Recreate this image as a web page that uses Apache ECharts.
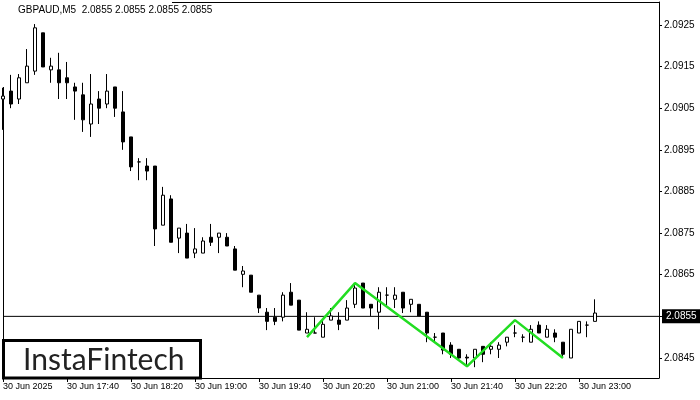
<!DOCTYPE html>
<html>
<head>
<meta charset="utf-8">
<script src="https://cdn.jsdelivr.net/npm/echarts@6/dist/echarts.min.js"></script>
<style>html,body{margin:0;padding:0;background:#fff}#c{width:700px;height:400px}</style>
</head>
<body>
<div id="c"></div>
<script>
var categories = ["17:00","17:05","17:10","17:15","17:20","17:25","17:30","17:35","17:40","17:45","17:50","17:55",
"18:00","18:05","18:10","18:15","18:20","18:25","18:30","18:35","18:40","18:45","18:50","18:55",
"19:00","19:05","19:10","19:15","19:20","19:25","19:30","19:35","19:40","19:45","19:50","19:55",
"20:00","20:05","20:10","20:15","20:20","20:25","20:30","20:35","20:40","20:45","20:50","20:55",
"21:00","21:05","21:10","21:15","21:20","21:25","21:30","21:35","21:40","21:45","21:50","21:55",
"22:00","22:05","22:10","22:15","22:20","22:25","22:30","22:35","22:40","22:45","22:50","22:55",
"23:00","23:05","23:10","23:15","23:20","23:25","23:30","23:35","23:40","23:45","23:50"];

var opens = [2.09072,2.09091,2.09072,2.09111,2.09139,2.09231,2.09142,2.09142,2.09123,2.09101,
2.09082,2.09012,2.09072,2.09060,2.09101,2.09041,2.08981,2.08921,2.08911,2.08911,
2.08769,2.08832,2.08738,2.08750,2.08702,2.08702,2.08740,2.08740,2.08740,2.08712,
2.08651,2.08649,2.08601,2.08560,2.08548,2.08548,2.08608,2.08589,2.08510,2.08510,
2.08500,2.08541,2.08541,2.08541,2.08579,2.08630,2.08579,2.08560,2.08601,2.08591,
2.08608,2.08579,2.08579,2.08560,2.08500,2.08510,2.08481,2.08471,2.08452,2.08450,
2.08478,2.08471,2.08471,2.08488,2.08510,2.08500,2.08488,2.08529,2.08500,2.08510,
2.08488,2.08450,2.08510,2.08529,2.08538];

var closes = [2.09079,2.09060,2.09123,2.09151,2.09243,2.09149,2.09151,2.09111,2.09111,2.09091,
2.09022,2.09060,2.09050,2.09091,2.09050,2.08969,2.08909,2.08921,2.08899,2.08760,
2.08841,2.08728,2.08762,2.08690,2.08712,2.08731,2.08728,2.08750,2.08719,2.08661,
2.08659,2.08608,2.08570,2.08538,2.08538,2.08601,2.08577,2.08517,2.08519,2.08510,
2.08531,2.08551,2.08531,2.08570,2.08618,2.08570,2.08570,2.08608,2.08601,2.08601,
2.08570,2.08591,2.08551,2.08510,2.08500,2.08469,2.08459,2.08450,2.08450,2.08471,
2.08459,2.08478,2.08481,2.08500,2.08510,2.08500,2.08519,2.08510,2.08519,2.08500,
2.08459,2.08519,2.08538,2.08529,2.08558];

var lows = [2.08998,2.09050,2.09060,2.09111,2.09130,2.09149,2.09111,2.09072,2.09072,2.09022,
2.08993,2.08981,2.09012,2.09050,2.09029,2.08950,2.08899,2.08877,2.08877,2.08719,
2.08769,2.08728,2.08702,2.08690,2.08690,2.08702,2.08719,2.08702,2.08719,2.08661,
2.08620,2.08608,2.08558,2.08517,2.08529,2.08538,2.08577,2.08517,2.08510,2.08510,
2.08500,2.08541,2.08517,2.08541,2.08570,2.08570,2.08551,2.08519,2.08577,2.08570,
2.08558,2.08560,2.08551,2.08488,2.08488,2.08459,2.08450,2.08445,2.08430,2.08428,
2.08440,2.08459,2.08450,2.08478,2.08500,2.08488,2.08488,2.08510,2.08500,2.08488,
2.08450,2.08450,2.08510,2.08500,2.08538];

var highs = [2.09099,2.09130,2.09132,2.09192,2.09252,2.09231,2.09171,2.09183,2.09161,2.09111,
2.09111,2.09132,2.09091,2.09132,2.09101,2.09091,2.08981,2.08930,2.08930,2.08911,
2.08861,2.08841,2.08762,2.08772,2.08762,2.08740,2.08772,2.08750,2.08750,2.08719,
2.08671,2.08649,2.08601,2.08570,2.08570,2.08608,2.08630,2.08589,2.08560,2.08548,
2.08541,2.08570,2.08560,2.08589,2.08630,2.08630,2.08579,2.08620,2.08620,2.08620,
2.08608,2.08591,2.08579,2.08560,2.08510,2.08510,2.08488,2.08471,2.08459,2.08471,
2.08478,2.08488,2.08488,2.08500,2.08529,2.08507,2.08529,2.08538,2.08529,2.08519,
2.08488,2.08519,2.08538,2.08538,2.08591];

var patternIdx = [38, 44, 58, 64, 70];
var patternVal = [2.08500, 2.08630, 2.08430, 2.08541, 2.08450];

var yTicks = [2.0845, 2.0855, 2.0865, 2.0875, 2.0885, 2.0895, 2.0905, 2.0915, 2.0925];
var xTickIdx = [0, 8, 16, 24, 32, 40, 48, 56, 64, 72];
var xTickText = ["30 Jun 2025","30 Jun 17:40","30 Jun 18:20","30 Jun 19:00","30 Jun 19:40",
"30 Jun 20:20","30 Jun 21:00","30 Jun 21:40","30 Jun 22:20","30 Jun 23:00"];
var currentPrice = 2.0855;
var titleText = "GBPAUD,M5  2.0855 2.0855 2.0855 2.0855";
var logoText = "InstaFintech";

var candleData = opens.map(function (o, i) { return [o, closes[i], lows[i], highs[i]]; });
var patternData = categories.map(function () { return null; });
patternIdx.forEach(function (k, j) { patternData[k] = patternVal[j]; });
var priceData = categories.map(function () { return null; });
priceData[0] = currentPrice;
priceData[categories.length - 1] = currentPrice;
var tickMap = {};
xTickIdx.forEach(function (k, j) { tickMap[k] = xTickText[j]; });

var FONT = '"Liberation Sans", Arial, sans-serif';
var chart = echarts.init(document.getElementById('c'), null, { renderer: 'canvas' });
chart.setOption({
  animation: false,
  backgroundColor: '#fff',
  grid: { left: 3, right: 41, top: 2, bottom: 22, containLabel: false },
  xAxis: {
    type: 'category',
    data: categories,
    boundaryGap: false,
    axisLine: { show: true, lineStyle: { color: '#000', width: 1 } },
    axisTick: { show: true, length: 4, interval: function (i) { return tickMap[i] !== undefined; }, lineStyle: { color: '#000' } },
    axisLabel: {
      show: true,
      interval: function (i) { return tickMap[i] !== undefined; },
      formatter: function (v, i) { return tickMap[i] || ''; },
      align: 'left', color: '#000', fontSize: 9, fontFamily: FONT, margin: 4
    },
    splitLine: { show: false }
  },
  yAxis: {
    type: 'value',
    position: 'right',
    min: 2.08402,
    max: 2.09305,
    axisLine: { show: true, lineStyle: { color: '#000', width: 1 } },
    axisTick: { show: true, length: 3, customValues: yTicks, lineStyle: { color: '#000' } },
    axisLabel: { show: true, customValues: yTicks, formatter: function (v) { return v.toFixed(4); }, color: '#000', fontSize: 10, fontFamily: FONT, margin: 5 },
    splitLine: { show: false }
  },
  series: [
    {
      type: 'line',
      data: priceData,
      connectNulls: true,
      symbol: 'none',
      silent: true,
      lineStyle: { color: '#000', width: 1 },
      z: 1,
      endLabel: {
        show: true,
        formatter: function () { return currentPrice.toFixed(4); },
        backgroundColor: '#000', color: '#fff', fontSize: 10, fontFamily: FONT,
        padding: [2, 4, 2, 4], distance: 3
      }
    },
    {
      type: 'candlestick',
      data: candleData,
      barWidth: 4,
      clip: true,
      z: 2,
      itemStyle: {
        color: '#fff', color0: '#000',
        borderColor: '#000', borderColor0: '#000', borderColorDoji: '#000',
        borderWidth: 1
      }
    },
    {
      type: 'line',
      data: patternData,
      connectNulls: true,
      symbol: 'none',
      lineStyle: { color: '#22dd22', width: 2.5 },
      z: 5
    }
  ],
  graphic: [
    { type: 'line', shape: { x1: 172, y1: 2.5, x2: 659, y2: 2.5 }, style: { stroke: '#000', lineWidth: 1 }, silent: true },
    { type: 'line', shape: { x1: 3.5, y1: 87, x2: 3.5, y2: 378 }, style: { stroke: '#000', lineWidth: 1 }, silent: true },
    { type: 'text', left: 18, top: 5, style: { text: titleText, fill: '#000', font: '10px ' + FONT }, silent: true },
    { type: 'rect', shape: { x: 3.5, y: 340.5, width: 197, height: 37.5 }, style: { fill: '#fff', stroke: '#000', lineWidth: 3 }, z: 10, silent: true },
    { type: 'text', x: 23, y: 360, style: { text: logoText, fill: '#222', font: '30px Lato, sans-serif', textVerticalAlign: 'middle' }, z: 11, silent: true }
  ]
});
</script>
</body>
</html>
